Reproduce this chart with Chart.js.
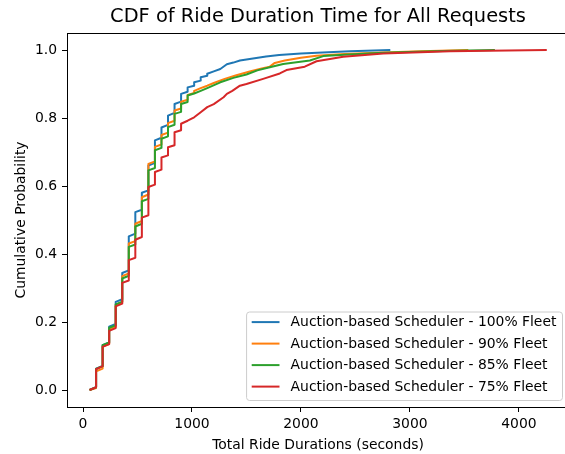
<!DOCTYPE html>
<html>
<head>
<meta charset="utf-8">
<script src="https://cdn.jsdelivr.net/npm/chart.js@4/dist/chart.umd.min.js"></script>
<style>
    html, body { margin: 0; padding: 0; background: #fff; overflow: hidden; }
    #wrap { position: absolute; left: 0; top: 0; width: 575px; height: 454px; }
</style>
</head>
<body>
<div id="wrap"><canvas id="cdfChart"></canvas></div>
<script>
const chartTitle = 'CDF of Ride Duration Time for All Requests';
const xLabel = 'Total Ride Durations (seconds)';
const yLabel = 'Cumulative Probability';

const seriesLabels = [
    'Auction-based Scheduler - 100% Fleet',
    'Auction-based Scheduler - 90% Fleet',
    'Auction-based Scheduler - 85% Fleet',
    'Auction-based Scheduler - 75% Fleet'
];
const seriesColors = ['#1f77b4', '#ff7f0e', '#2ca02c', '#d62728'];

const xTicks = [0, 1000, 2000, 3000, 4000];
const yTicks = [0, 0.2, 0.4, 0.6, 0.8, 1.0];

// ride durations (s) and cumulative probability
const fleet100X = [60,120,120,180,180,240,240,300,300,360,360,420,420,480,480,540,540,600,600,660,660,720,720,780,780,840,840,900,900,960,960,1020,1020,1080,1080,1140,1140,1200,1260,1320,1380,1440,1560,1680,1800,2000,2200,2450,2820];
const fleet100Y = [0,0.008,0.063,0.071,0.132,0.14,0.186,0.194,0.259,0.267,0.344,0.352,0.452,0.46,0.523,0.53,0.58,0.587,0.66,0.668,0.734,0.742,0.772,0.78,0.807,0.815,0.841,0.848,0.871,0.877,0.89,0.895,0.905,0.91,0.92,0.924,0.93,0.937,0.944,0.958,0.963,0.969,0.975,0.981,0.985,0.99,0.993,0.996,1.0];

const fleet90X = [60,120,120,180,180,240,240,300,300,360,360,420,420,480,480,540,540,600,600,660,660,720,720,780,780,840,840,900,900,960,960,1020,1020,1080,1140,1200,1300,1400,1530,1640,1714,1760,1852,2000,2143,2400,2755,3100,3536];
const fleet90Y = [0,0.006,0.055,0.063,0.128,0.135,0.178,0.186,0.25,0.258,0.335,0.343,0.431,0.438,0.489,0.497,0.567,0.575,0.665,0.672,0.715,0.722,0.75,0.757,0.785,0.792,0.822,0.828,0.848,0.854,0.868,0.874,0.88,0.888,0.895,0.903,0.915,0.925,0.937,0.946,0.951,0.962,0.969,0.977,0.983,0.988,0.993,0.996,1.0];

const fleet85X = [60,120,120,180,180,240,240,300,300,360,360,420,420,480,480,540,540,600,600,660,660,720,720,780,780,840,840,900,900,960,960,1020,1080,1140,1260,1380,1500,1600,1714,1837,2082,2205,2400,2755,3300,3780];
const fleet85Y = [0,0.008,0.062,0.07,0.132,0.14,0.183,0.19,0.252,0.26,0.328,0.336,0.421,0.428,0.481,0.489,0.555,0.562,0.646,0.653,0.705,0.712,0.739,0.746,0.773,0.78,0.812,0.818,0.841,0.847,0.866,0.872,0.88,0.888,0.905,0.918,0.928,0.94,0.949,0.959,0.969,0.982,0.986,0.992,0.997,1.0];

const fleet75X = [60,120,120,180,180,240,240,300,300,360,360,420,420,480,480,540,540,600,600,660,660,720,720,780,780,840,840,900,900,960,1020,1080,1140,1200,1290,1320,1370,1440,1500,1653,1806,1867,2035,2143,2388,2755,3368,4256];
const fleet75Y = [0,0.008,0.061,0.07,0.127,0.135,0.174,0.182,0.246,0.254,0.315,0.322,0.382,0.389,0.442,0.45,0.507,0.514,0.597,0.604,0.641,0.648,0.684,0.69,0.714,0.72,0.758,0.764,0.783,0.792,0.802,0.817,0.832,0.841,0.861,0.871,0.88,0.895,0.9,0.915,0.931,0.941,0.951,0.967,0.98,0.99,0.996,1.0];

const xMin = -147;
const xMax = 4460;
const yMin = -0.05;
const yMax = 1.05;

const fontFamily = '"DejaVu Sans", sans-serif';
Chart.defaults.font.family = fontFamily;
Chart.defaults.color = '#000';

function toPoints(xs, ys) {
    return xs.map((x, i) => ({x: x, y: ys[i]}));
}

const seriesPoints = [
    toPoints(fleet100X, fleet100Y),
    toPoints(fleet90X, fleet90Y),
    toPoints(fleet85X, fleet85Y),
    toPoints(fleet75X, fleet75Y)
];

// matplotlib-style legend box in the lower right corner of the axes
const insideLegend = {
    id: 'insideLegend',
    afterDraw(chart) {
        const ctx = chart.ctx;
        const area = chart.chartArea;
        const fontSize = 13.9;
        ctx.save();
        ctx.font = fontSize + 'px ' + fontFamily;
        const items = chart.data.datasets;
        const textW = Math.max(...items.map(d => ctx.measureText(d.label).width));
        const w = 5.6 + 27.8 + 11.1 + textW + 5.6;
        const h = 88.5;
        const right = area.right - 7;
        const bottom = area.bottom - 7;
        const left = right - w;
        const top = bottom - h;

        ctx.beginPath();
        ctx.roundRect(left + 0.5, top + 0.5, w, h, 3);
        ctx.fillStyle = 'rgba(255,255,255,0.8)';
        ctx.fill();
        ctx.strokeStyle = '#cccccc';
        ctx.lineWidth = 1;
        ctx.stroke();

        items.forEach((d, i) => {
            const cy = top + 10.6 + i * 21.5;
            ctx.beginPath();
            ctx.moveTo(left + 5.6, cy);
            ctx.lineTo(left + 5.6 + 27.8, cy);
            ctx.strokeStyle = d.borderColor;
            ctx.lineWidth = 2;
            ctx.stroke();
            ctx.fillStyle = '#000';
            ctx.textBaseline = 'middle';
            ctx.textAlign = 'left';
            ctx.fillText(d.label, left + 44.5, cy + 0.5);
        });
        ctx.restore();
    }
};

const ctx = document.getElementById('cdfChart');

new Chart(ctx, {
    type: 'line',
    data: {
        datasets: seriesLabels.map((label, i) => ({
            label: label,
            data: seriesPoints[i],
            borderColor: seriesColors[i],
            backgroundColor: seriesColors[i],
            borderWidth: 2,
            pointRadius: 0,
            tension: 0,
            fill: false,
            borderJoinStyle: 'round',
            order: seriesLabels.length - i
        }))
    },
    options: {
        responsive: true,
        maintainAspectRatio: false,
        animation: false,
        events: [],
        layout: {
            padding: {left: 0, top: 0, right: 6, bottom: 0}
        },
        scales: {
            x: {
                type: 'linear',
                position: 'bottom',
                min: xMin,
                max: xMax,
                afterBuildTicks: s => { s.ticks = xTicks.map(v => ({value: v})); },
                afterFit: s => { s.height = 47; },
                ticks: {
                    font: {size: 13.9},
                    padding: 4,
                    maxRotation: 0,
                    callback: v => String(v)
                },
                grid: {
                    drawOnChartArea: false,
                    tickLength: 5,
                    tickColor: '#000',
                    tickWidth: 1
                },
                border: {color: '#000', width: 1},
                title: {
                    display: true,
                    text: xLabel,
                    font: {size: 13.9},
                    padding: {top: 0, bottom: 0}
                }
            },
            xTop: {
                type: 'linear',
                position: 'top',
                min: xMin,
                max: xMax,
                afterFit: s => { s.height = 33; },
                ticks: {display: false},
                grid: {display: false, drawTicks: false},
                border: {color: '#000', width: 1},
                title: {
                    display: true,
                    text: chartTitle,
                    font: {size: 19.4},
                    padding: {top: 5, bottom: 0}
                }
            },
            y: {
                type: 'linear',
                position: 'left',
                min: yMin,
                max: yMax,
                afterBuildTicks: s => { s.ticks = yTicks.map(v => ({value: v})); },
                afterFit: s => { s.width = 67; },
                ticks: {
                    font: {size: 13.9},
                    padding: 5,
                    callback: v => v.toFixed(1)
                },
                grid: {
                    drawOnChartArea: false,
                    tickLength: 5,
                    tickColor: '#000',
                    tickWidth: 1
                },
                border: {color: '#000', width: 1},
                title: {
                    display: true,
                    text: yLabel,
                    font: {size: 13.9},
                    padding: {top: 13, bottom: 0}
                }
            }
        },
        plugins: {
            legend: {display: false},
            title: {display: false},
            tooltip: {enabled: false}
        }
    },
    plugins: [insideLegend]
});
</script>
</body>
</html>
